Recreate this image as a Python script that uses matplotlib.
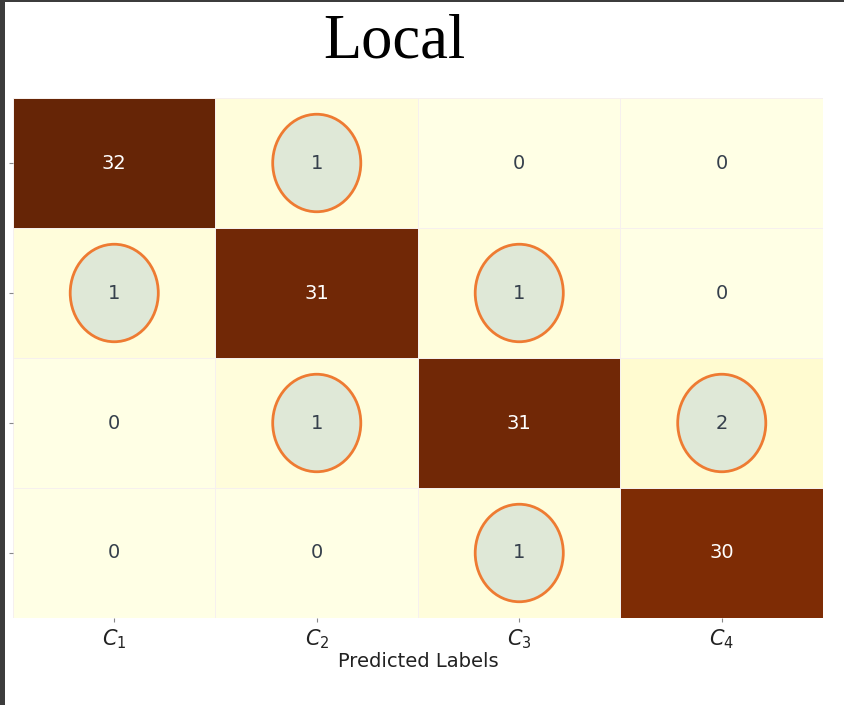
import matplotlib
matplotlib.use("Agg")
import matplotlib.pyplot as plt
import numpy as np
import seaborn as sns
from matplotlib.patches import Ellipse, Rectangle

# Data
classes = ["$C_1$", "$C_2$", "$C_3$", "$C_4$"]
matrix = [
    [32, 1, 0, 0],
    [1, 31, 1, 0],
    [0, 1, 31, 2],
    [0, 0, 1, 30],
]
# highlighted (row, col) cells of misclassification
highlight_cells = [(0, 1), (1, 0), (1, 2), (2, 1), (2, 3), (3, 2)]
title = "Local"
xlabel = "Predicted Labels"

W, H = 845, 705
fig = plt.figure(figsize=(W / 100, H / 100), dpi=100)
fig.patch.set_facecolor("white")

ax = fig.add_axes([13 / W, 1 - 618 / H, (823 - 13) / W, (618 - 98) / H])
sns.heatmap(np.array(matrix), ax=ax, cmap="YlOrBr", vmin=0, vmax=32,
            annot=True, fmt="d", cbar=False, linewidths=0.5,
            linecolor="#f6f0ee", annot_kws={"fontsize": 14})

for (r, c) in highlight_cells:
    e = Ellipse((c + 0.5, r + 0.5), width=0.435, height=0.75,
                facecolor="#dfe8d7", edgecolor="#ee7b32", linewidth=2.0,
                zorder=2)
    ax.add_patch(e)
for t in ax.texts:
    t.set_zorder(3)
    if t.get_color() != "w":
        t.set_color("#36404c")

ax.set_xticks(np.arange(len(classes)) + 0.5)
ax.set_xticklabels(classes, fontsize=15, color="#222222")
ax.set_yticks(np.arange(len(classes)) + 0.5)
ax.set_yticklabels([""] * len(classes))
ax.tick_params(axis="both", length=3, width=0.8, color="#888888")
ax.set_xlabel(xlabel, fontsize=14, color="#222222", labelpad=1)

fig.text(394 / W, 1 - 43 / H, title, ha="center", va="center",
         family="Liberation Serif", fontsize=45, color="black")

# screenshot frame edges
fig.add_artist(Rectangle((0, 0), 5 / W, 1, transform=fig.transFigure,
                         facecolor="#3c3c3c", edgecolor="none"))
fig.add_artist(Rectangle((0, 1 - 2 / H), 1, 2 / H, transform=fig.transFigure,
                         facecolor="#3c3c3c", edgecolor="none"))

fig.savefig("out.png", dpi=100)
